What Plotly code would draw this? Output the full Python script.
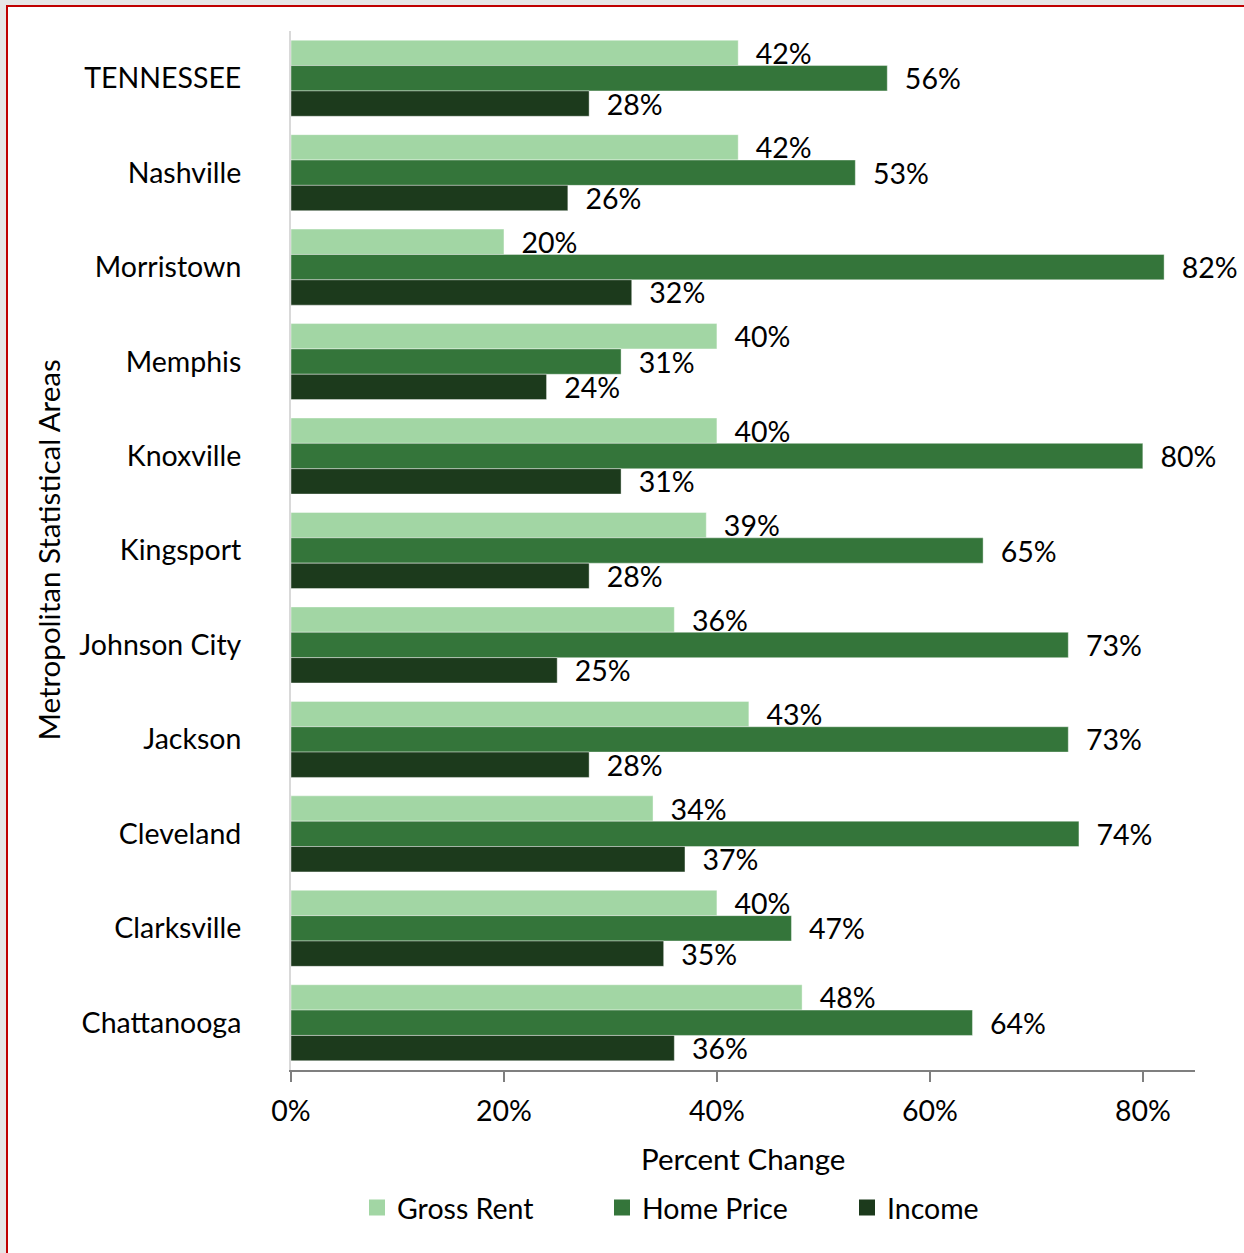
import plotly.graph_objects as go

# Metropolitan statistical areas, top to bottom
areas = ["TENNESSEE", "Nashville", "Morristown", "Memphis", "Knoxville",
         "Kingsport", "Johnson City", "Jackson", "Cleveland", "Clarksville",
         "Chattanooga"]

# Percent change by measure
gross_rent = [42, 42, 20, 40, 40, 39, 36, 43, 34, 40, 48]
home_price = [56, 53, 82, 31, 80, 65, 73, 73, 74, 47, 64]
income = [28, 26, 32, 24, 31, 28, 25, 28, 37, 35, 36]

x_ticks = [0, 20, 40, 60, 80]
x_tick_labels = ["0%", "20%", "40%", "60%", "80%"]

series = [
    ("Gross Rent", gross_rent, "#a2d6a4"),
    ("Home Price", home_price, "#34753a"),
    ("Income", income, "#1c3a1c"),
]

FONT = "Lato"
SIZE = 28.5

fig = go.Figure()
for name, vals, color in series:
    fig.add_trace(go.Bar(
        name=name,
        legendgroup=name,
        showlegend=False,
        y=areas,
        x=vals,
        orientation="h",
        marker=dict(color=color, line=dict(color="rgba(255,255,255,0.5)", width=0.8)),
        text=[f"\u00a0\u00a0{v}%" for v in vals],
        textposition="outside",
        textfont=dict(family=FONT, size=SIZE, color="#000000"),
        constraintext="none",
        cliponaxis=False,
        hoverinfo="x+y+name",
    ))

# larger square legend keys for each series
for name, vals, color in series:
    fig.add_trace(go.Scatter(
        name=name,
        legendgroup=name,
        x=[None], y=[None],
        mode="markers",
        marker=dict(symbol="square", size=18, color=color),
        hoverinfo="skip",
    ))

# page geometry (pixels) used to place frame and titles in paper units
L, R, T, B = 291, 1195, 31, 1070
W, H = 1244, 1253
pw, ph = R - L, B - T


def px_x(px):
    return (px - L) / pw


def px_y(py):
    return (B - py) / ph


fig.update_layout(
    width=W, height=H,
    margin=dict(l=L, r=W - R, t=T, b=H - B, pad=0),
    paper_bgcolor="#e6e6e6",
    plot_bgcolor="rgba(0,0,0,0)",
    barmode="group",
    bargap=0.195,
    bargroupgap=0,
    font=dict(family=FONT, size=SIZE, color="#000000"),
    showlegend=True,
    legend=dict(
        orientation="h",
        x=px_x(357), xanchor="left",
        y=px_y(1208), yanchor="middle",
        font=dict(family=FONT, size=SIZE, color="#000000"),
        bgcolor="rgba(0,0,0,0)",
        entrywidth=200,
        entrywidthmode="pixels",
        traceorder="normal",
        itemsizing="trace",
    ),
    xaxis=dict(
        range=[0, 84.9],
        tickvals=x_ticks,
        ticktext=x_tick_labels,
        showgrid=False,
        zeroline=False,
        showline=True,
        linecolor="#7f7f7f",
        linewidth=2,
        ticks="outside",
        ticklen=10,
        tickwidth=1.5,
        tickcolor="#7f7f7f",
        ticklabelstandoff=5,
        tickfont=dict(family=FONT, size=SIZE, color="#000000"),
    ),
    yaxis=dict(
        autorange="reversed",
        type="category",
        showgrid=False,
        zeroline=False,
        showline=True,
        linecolor="#d9d9d9",
        linewidth=2,
        ticks="",
        ticklabelstandoff=42,
        tickfont=dict(family=FONT, size=SIZE, color="#000000"),
    ),
    shapes=[
        dict(
            type="rect", xref="paper", yref="paper", layer="below",
            x0=px_x(7), x1=px_x(1270), y0=px_y(1280), y1=px_y(6),
            fillcolor="#ffffff",
            line=dict(color="#c00000", width=2),
        )
    ],
    annotations=[
        dict(text="Metropolitan Statistical Areas", xref="paper", yref="paper",
             x=px_x(48), y=0.5, xanchor="center", yanchor="middle",
             textangle=-90, showarrow=False,
             font=dict(family=FONT, size=29.5, color="#000000")),
        dict(text="Percent Change", xref="paper", yref="paper",
             x=0.5, y=px_y(1158), xanchor="center", yanchor="middle",
             showarrow=False,
             font=dict(family=FONT, size=29.5, color="#000000")),
    ],
)

fig.write_html("out.html")
